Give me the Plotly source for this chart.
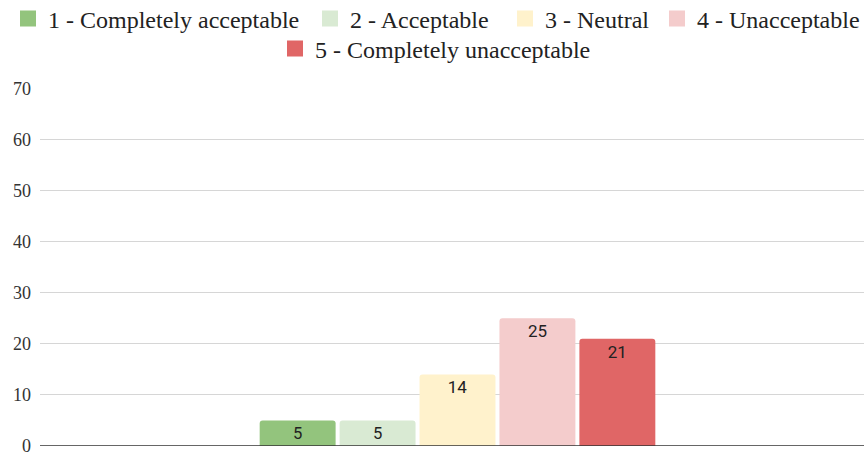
import plotly.graph_objects as go

categories = ["1 - Completely acceptable", "2 - Acceptable", "3 - Neutral",
              "4 - Unacceptable", "5 - Completely unacceptable"]
values = [5, 5, 14, 25, 21]
colors = ["#93c47d", "#d9ead3", "#fff2cc", "#f4cccc", "#e06666"]
y_ticks = [0, 10, 20, 30, 40, 50, 60, 70]

# legend layout: where each entry's text starts (px) and its row centre (px)
legend_text_x = [48, 350, 545, 697, 315]
legend_row_y = [19, 19, 19, 19, 49]

fig = go.Figure()
for i, (name, v, c) in enumerate(zip(categories, values, colors)):
    fig.add_trace(go.Bar(
        x=[""], y=[v], name=name, showlegend=False,
        marker=dict(color=c, line=dict(width=0), cornerradius=3),
        text=[str(v)], textposition="inside", insidetextanchor="end",
        textangle=0,
        textfont=dict(family="Roboto", size=17, color="#222222"),
    ))

legend_font = dict(family="Liberation Serif", size=24, color="#222222")
legends = {}
for i, (name, c) in enumerate(zip(categories, colors)):
    key = "legend" if i == 0 else f"legend{i + 1}"
    fig.add_trace(go.Scatter(
        x=[None], y=[None], mode="markers", name=name,
        marker=dict(symbol="square", size=17, color=c),
        legend=key,
    ))
    legends[key] = dict(orientation="h", xref="container", yref="container",
                        x=(legend_text_x[i] - 40) / 864, xanchor="left",
                        y=1 - legend_row_y[i] / 453, yanchor="middle",
                        font=legend_font, itemsizing="trace",
                        bgcolor="rgba(0,0,0,0)", borderwidth=0)

W = 824
fig.update_layout(
    width=864, height=453,
    margin=dict(l=40, r=0, t=88, b=7, autoexpand=False),
    paper_bgcolor="white", plot_bgcolor="white",
    barmode="group", bargap=0.515, bargroupgap=0.05,
    showlegend=True,
    xaxis=dict(range=[-417.5 / W, 406.5 / W], showticklabels=False, showgrid=False,
               zeroline=False, showline=False),
    yaxis=dict(range=[0, 70.05], tickvals=y_ticks, showgrid=True, gridcolor="#d6d6d6",
               gridwidth=1, zeroline=False, showline=False,
               tickfont=dict(family="Liberation Serif", size=18, color="#333333"),
               ticks="", ticklabelstandoff=8, ticklabeloverflow="allow"),
    shapes=[dict(type="line", xref="paper", yref="y", x0=0, x1=1, y0=0, y1=0,
                 line=dict(color="#333333", width=1.5))],
    **legends,
)
fig.write_html("out.html")
